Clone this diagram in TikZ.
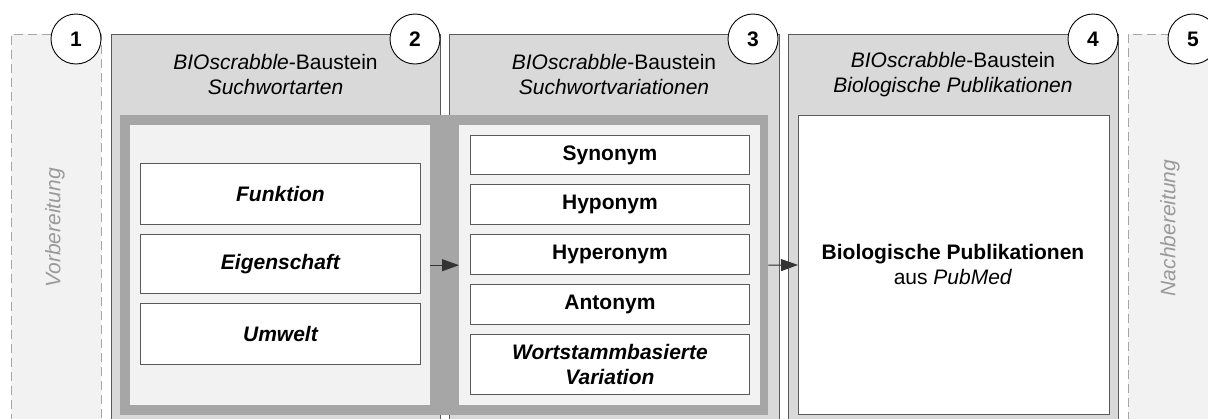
\documentclass[tikz,border=0pt]{standalone}
\usepackage{fontspec}
\setmainfont{Liberation Sans}
\usetikzlibrary{arrows.meta}

\definecolor{panelfill}{HTML}{D9D9D9}
\definecolor{framegray}{HTML}{A6A6A6}
\definecolor{innerfill}{HTML}{F2F2F2}
\definecolor{edgegray}{HTML}{5A5A5A}
\definecolor{ghosttext}{HTML}{9A9A9A}

\tikzset{
  panel/.style={draw=edgegray, fill=panelfill, line width=0.9pt, inner sep=0pt,
    anchor=north west},
  ghost/.style={draw=framegray, fill=innerfill, line width=0.9pt,
    dash pattern=on 9pt off 5pt, inner sep=0pt, anchor=north west},
  plate/.style={fill=framegray, inner sep=0pt, anchor=north west},
  tray/.style={fill=innerfill, inner sep=0pt, anchor=north west},
  itembox/.style={draw=edgegray, fill=white, line width=0.9pt, inner sep=0pt,
    anchor=north west, align=center, font=\fontsize{21}{25.5}\selectfont\bfseries},
  paneltitle/.style={align=center, font=\fontsize{21}{25.5}\selectfont},
  sidetext/.style={rotate=90, text=ghosttext, font=\fontsize{21}{25}\selectfont\itshape},
  badge/.style={circle, draw=black, fill=white, line width=0.9pt, minimum size=50pt,
    inner sep=0pt, font=\fontsize{21}{25}\selectfont\bfseries},
  flow/.style={-{Triangle[length=17pt,width=12pt]}, line width=1pt, draw=black!80,
    fill=black}
}

\begin{document}
\begin{tikzpicture}[x=1pt, y=-1pt]
\begin{scope}
  \clip (0,0) rectangle (1208,418);

  % outer stage panels
  \node[ghost, minimum width=90pt,  minimum height=420pt] (p1) at (11,34) {};
  \node[panel, minimum width=329pt, minimum height=420pt] (p2) at (111,34) {};
  \node[panel, minimum width=330pt, minimum height=420pt] (p3) at (449,34) {};
  \node[panel, minimum width=330pt, minimum height=420pt] (p4) at (788,34) {};
  \node[ghost, minimum width=140pt, minimum height=420pt] (p5) at (1128,34) {};

  % panel titles
  \node[paneltitle] (t2) at (275.5,74.5) {\textit{BIOscrabble}-Baustein\\\textit{Suchwortarten}};
  \node[paneltitle] (t3) at (614,74.5)   {\textit{BIOscrabble}-Baustein\\\textit{Suchwortvariationen}};
  \node[paneltitle] (t4) at (953,74.5)   {\textit{BIOscrabble}-Baustein\\\textit{Biologische Publikationen}};

  % side labels of the preparation / post-processing stages
  \node[sidetext] (s1) at (55,228)   {Vorbereitung};
  \node[sidetext] (s5) at (1170,228) {Nachbereitung};

  % shared plate holding both search-word blocks
  \node[plate, minimum width=648pt, minimum height=300pt] (frame) at (120,115) {};
  \node[tray,  minimum width=300pt, minimum height=280pt] (inL) at (130,125) {};
  \node[tray,  minimum width=301pt, minimum height=280pt] (inR) at (459,125) {};

  % search-word types
  \node[itembox, minimum width=280pt, minimum height=61pt] (fun) at (140,163) {\itshape Funktion};
  \node[itembox, minimum width=280pt, minimum height=59pt] (eig) at (140,234) {\itshape Eigenschaft};
  \node[itembox, minimum width=280pt, minimum height=61pt] (umw) at (140,303) {\itshape Umwelt};

  % search-word variations
  \node[itembox, minimum width=279pt, minimum height=39pt] (syn)  at (470,135) {Synonym};
  \node[itembox, minimum width=279pt, minimum height=40pt] (hypo) at (470,184) {Hyponym};
  \node[itembox, minimum width=279pt, minimum height=40pt] (hype) at (470,234) {Hyperonym};
  \node[itembox, minimum width=279pt, minimum height=40pt] (ant)  at (470,284) {Antonym};
  \node[itembox, minimum width=279pt, minimum height=60pt] (wsb)  at (470,334) {\itshape Wortstammbasierte\\\itshape Variation};

  % publication source
  \node[itembox, minimum width=311pt, minimum height=299pt] (pub) at (798,115) {};
  \node[align=center, font=\fontsize{21}{25}\selectfont] (pubtxt) at (953,264)
    {\textbf{Biologische Publikationen}\\aus \textit{PubMed}};

  % data flow
  \draw[flow] (inL.east) -- (inR.west);
  \draw[flow] (frame.east) -- (pub.west);

  % stage numbers
  \node[badge] (n1) at (76,39)   {1};
  \node[badge] (n2) at (415,39)  {2};
  \node[badge] (n3) at (753,39)  {3};
  \node[badge] (n4) at (1093,39) {4};
  \node[badge] (n5) at (1193,39) {5};
\end{scope}
\pgfresetboundingbox
\useasboundingbox (0,0) rectangle (1208,418);
\end{tikzpicture}
\end{document}
